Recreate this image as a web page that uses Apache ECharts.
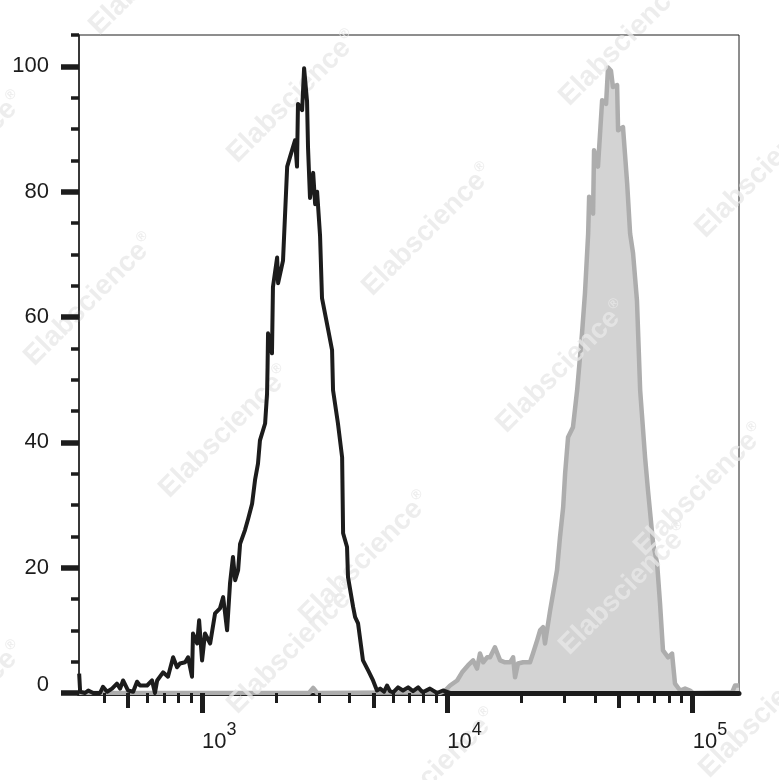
<!DOCTYPE html>
<html><head><meta charset="utf-8">
<script src="https://cdn.jsdelivr.net/npm/echarts@6/dist/echarts.min.js"></script>
<style>html,body{margin:0;padding:0;background:#fff}#c{width:779px;height:780px}</style>
</head><body><div id="c"></div>
<script>
// Control (black outline) histogram: log10 fluorescence intensity vs % of max
const ctrlLogFL = [2.499,2.503,2.523,2.536,2.556,2.584,2.596,2.613,2.633,2.653,2.666,2.678,2.698,2.719,2.735,2.747,2.776,2.796,2.808,2.817,2.841,2.861,2.882,2.898,2.910,2.931,2.943,2.959,2.963,2.980,2.988,3.000,3.012,3.033,3.053,3.073,3.086,3.102,3.114,3.126,3.135,3.147,3.155,3.175,3.188,3.204,3.216,3.228,3.236,3.257,3.265,3.267,3.269,3.285,3.289,3.306,3.310,3.330,3.347,3.359,3.379,3.387,3.391,3.408,3.416,3.428,3.432,3.440,3.453,3.461,3.469,3.481,3.489,3.514,3.530,3.534,3.554,3.571,3.575,3.591,3.595,3.616,3.624,3.636,3.656,3.677,3.697,3.713,3.726,3.742,3.754,3.766,3.779,3.799,3.819,3.840,3.860,3.881,3.897,3.909,3.929,3.958,3.982,4.011,5.189];
const ctrlCount = [3.1,0.2,0,0.4,0,0,1,0.2,0.7,1.5,0.7,2,0.4,0.2,1.8,1.2,1.2,2,0,2,3.3,2.6,5.7,4.1,4.7,4.9,5.7,2.6,9.5,7.9,11.6,5.2,9.5,7.9,12.7,13.5,15.3,10,17.5,21.7,18,19.6,23.8,26,27.8,30.2,34,36.6,40.3,43,47.8,52,57.4,54.2,64.8,69.5,65.4,69,84,85.6,88.2,84,94,93,99.7,94.4,87,79,83,78,80,73,63,58,54.7,48.3,43,37.6,25.5,23.3,18.5,13.7,12.1,11.1,5.2,3.6,2,0.4,0.7,0.2,1.2,0.3,0.1,0.9,0.4,0.9,0.3,0.9,0.2,0.3,0.7,0,0.4,0,0];

// Stained sample (grey filled) histogram
const stainLogFL = [2.499,3.436,3.453,3.469,3.942,3.970,3.991,4.011,4.040,4.060,4.084,4.105,4.121,4.133,4.146,4.162,4.174,4.194,4.215,4.235,4.256,4.268,4.276,4.288,4.309,4.337,4.349,4.366,4.378,4.390,4.398,4.419,4.431,4.447,4.459,4.472,4.480,4.492,4.512,4.529,4.549,4.561,4.574,4.578,4.594,4.598,4.614,4.631,4.647,4.655,4.667,4.675,4.692,4.696,4.716,4.733,4.745,4.757,4.773,4.786,4.806,4.818,4.839,4.855,4.867,4.879,4.900,4.916,4.928,4.949,4.969,4.989,5.002,5.161,5.173,5.189];
const stainCount = [0,0,0.8,0,0.1,0,0.4,1.2,2,3.3,4.4,5.2,3.9,6.3,4.9,5.7,5.7,7.3,5.2,4.9,4.9,5.7,2.5,4.7,4.9,4.9,6.3,8.4,10,10.5,7.9,13.2,15.9,19.6,24.8,29.6,35,40.8,42.4,48.3,57.4,63.8,73.3,79.2,76.5,86.6,84,94.6,94,99.8,99.3,96.7,97,89.8,90.3,81.3,73.3,70.2,62.6,48.3,37.6,32.3,23.8,20.7,14.3,6.8,5.7,6.3,1.5,0.4,0.7,0.4,0,0.1,1.2,1.2];

// Axis ranges and ticks
const xMinFL = 315, xMaxFL = 154500;
const xDecadeTicks = [3, 4, 5];
const xMidTickFL = [500, 5000, 50000];
const xMinorTickFL = [400,600,700,800,900,2000,3000,4000,6000,7000,8000,9000,20000,30000,40000,60000,70000,80000,90000];
const yMajorTicks = [0, 20, 40, 60, 80, 100];
const yMinorTicks = [5,10,15,25,30,35,45,50,55,65,70,75,85,90,95,105];
const yMax = 105;

const watermarkCenters = [[293,97],[90,300],[428,230],[625,40],[761,172],[562,367],[225,432],[293,648],[365,558],[625,589],[700,490],[765,712],[432,775],[-41,158],[-41,708],[155,-31]];

const FONT = '"Liberation Sans", Arial, sans-serif';
const INK = '#1c1c1c';
const X_MIN = Math.log10(xMinFL), X_MAX = Math.log10(xMaxFL);

function xAx(extra) {
  return Object.assign({
    type: 'value', position: 'bottom', min: X_MIN, max: X_MAX, z: 5,
    axisLine: { show: false, onZero: false }, axisTick: { show: false },
    axisLabel: { show: false }, splitLine: { show: false }
  }, extra);
}

const chart = echarts.init(document.getElementById('c'), null, { renderer: 'canvas' });
chart.setOption({
  animation: false,
  backgroundColor: '#ffffff',
  grid: { left: 79, right: 40, top: 35, bottom: 87, show: true, borderColor: INK, borderWidth: 1,
          backgroundColor: 'transparent', containLabel: false, outerBoundsMode: 'none' },
  xAxis: [
    xAx({ z: 0, axisLine: { show: true, onZero: false, lineStyle: { color: INK, width: 5 } } }),
    xAx({
      axisTick: { show: true, customValues: xDecadeTicks, length: 20, lineStyle: { color: INK, width: 5 } },
      axisLabel: {
        show: true, customValues: xDecadeTicks, align: 'left', margin: 14,
        formatter: v => '{b|10}{s|' + Math.round(v) + '}',
        rich: {
          b: { fontSize: 22, fontFamily: FONT, color: INK, verticalAlign: 'middle', padding: [24, 0, 0, 0] },
          s: { fontSize: 18, fontFamily: FONT, color: INK, verticalAlign: 'middle' }
        }
      }
    }),
    xAx({ axisTick: { show: true, customValues: xMidTickFL.map(Math.log10), length: 15, lineStyle: { color: INK, width: 4 } } }),
    xAx({ axisTick: { show: true, customValues: xMinorTickFL.map(Math.log10), length: 10, lineStyle: { color: INK, width: 3 } } })
  ],
  yAxis: [
    {
      type: 'value', position: 'left', min: 0, max: yMax, z: 5,
      axisLine: { show: true, onZero: false, lineStyle: { color: INK, width: 1.5 } },
      axisTick: { show: true, customValues: yMajorTicks, length: 18, lineStyle: { color: INK, width: 5.5 } },
      axisLabel: {
        show: true, customValues: yMajorTicks, margin: 30, fontSize: 22, fontFamily: FONT, color: INK,
        formatter: v => v === 0 ? '{z|0}' : String(v),
        rich: { z: { fontSize: 22, fontFamily: FONT, color: INK, verticalAlign: 'middle', padding: [0, 0, 17, 0] } }
      },
      splitLine: { show: false }
    },
    {
      type: 'value', position: 'left', min: 0, max: yMax, z: 5,
      axisLine: { show: false, onZero: false },
      axisTick: { show: true, customValues: yMinorTicks, length: 8, lineStyle: { color: INK, width: 3.5 } },
      axisLabel: { show: false }, splitLine: { show: false }
    }
  ],
  series: [
    {
      type: 'line', xAxisIndex: 0, yAxisIndex: 0, z: 1, silent: true,
      data: stainLogFL.map((x, i) => [x, stainCount[i]]),
      symbol: 'none', showSymbol: false,
      lineStyle: { color: '#adadad', width: 4.5, join: 'round' },
      areaStyle: { color: '#d3d3d3', opacity: 1 }
    },
    {
      type: 'line', xAxisIndex: 0, yAxisIndex: 0, z: 3, silent: true,
      data: ctrlLogFL.map((x, i) => [x, ctrlCount[i]]),
      symbol: 'none', showSymbol: false,
      lineStyle: { color: INK, width: 4, join: 'round' }
    }
  ],
  graphic: {
    elements: watermarkCenters.map(([x, y]) => ({
      type: 'text', x: x, y: y, rotation: Math.PI / 4, z: 2, silent: true,
      style: {
        text: '{w|Elabscience}{r|®}',
        rich: {
          w: { font: 'bold 28px ' + FONT, fill: 'rgba(232,232,232,0.78)', verticalAlign: 'middle' },
          r: { font: 'bold 14px ' + FONT, fill: 'rgba(232,232,232,0.78)', verticalAlign: 'middle', padding: [0, 0, 16, 1] }
        },
        fill: 'rgba(232,232,232,0.78)',
        textAlign: 'center', textVerticalAlign: 'middle', align: 'center', verticalAlign: 'middle'
      }
    }))
  }
});
</script>
</body></html>
